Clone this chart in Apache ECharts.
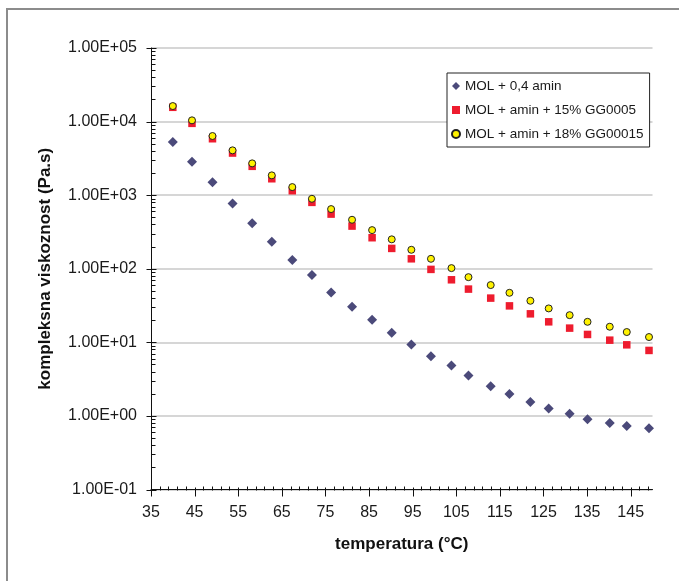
<!DOCTYPE html>
<html>
<head>
<meta charset="utf-8">
<script src="https://cdn.jsdelivr.net/npm/echarts@6/dist/echarts.min.js"></script>
<style>
  html, body { margin: 0; padding: 0; background: #ffffff; }
  #chart { width: 679px; height: 581px; }
</style>
</head>
<body>
<div id="chart"></div>
<script>
// Temperature sweep (°C) shared by all three samples
const temperatures = [40.0, 44.4, 49.1, 53.7, 58.2, 62.7, 67.4, 71.9, 76.3, 81.1, 85.7, 90.2, 94.7,
  99.2, 103.9, 107.8, 112.9, 117.2, 122.0, 126.2, 131.0, 135.1, 140.2, 144.1, 149.2];

// Complex viscosity (Pa.s)
const molAmin = [5270, 2845, 1493, 773, 414, 232, 132, 82, 47.7, 30.4, 20.2, 13.5, 9.36,
  6.49, 4.85, 3.55, 2.54, 1.98, 1.55, 1.26, 1.07, 0.90, 0.80, 0.73, 0.68];
const molGG0005 = [15630, 9460, 5845, 3735, 2465, 1671, 1148, 798, 553, 380, 264, 189, 136.5,
  98, 70.8, 52.9, 39.9, 31.3, 24.4, 19.0, 15.6, 12.8, 10.7, 9.25, 7.76];
const molGG00015 = [16260, 10400, 6365, 4065, 2705, 1858, 1288, 893, 647, 463, 335, 251, 181,
  136.5, 102, 76.9, 60, 47.1, 36.7, 28.9, 23.4, 19.0, 16.3, 13.8, 11.8];

const seriesNames = ['MOL + 0,4 amin', 'MOL + amin + 15% GG0005', 'MOL + amin + 18% GG00015'];

// Axis ticks and labels
const xTicks = [35, 45, 55, 65, 75, 85, 95, 105, 115, 125, 135, 145];
const xTickLabels = ['35', '45', '55', '65', '75', '85', '95', '105', '115', '125', '135', '145'];
const yTicks = [0.1, 1, 10, 100, 1000, 10000, 100000];
const yTickLabels = ['1.00E-01', '1.00E+00', '1.00E+01', '1.00E+02', '1.00E+03', '1.00E+04', '1.00E+05'];

const X_MIN = 35, X_MAX = 150, Y_MIN = 0.1, Y_MAX = 100000;
const FONT = "'Liberation Sans', Arial, Helvetica, sans-serif";

// Tick marks: kind 0 = x major, 1 = x minor, 2 = y major, 3 = y minor
const tickItems = [];
xTicks.forEach(function (t) {
  tickItems.push([t, Y_MIN, 0]);
  for (let s = 2; s < 10; s += 2) {
    if (t + s < X_MAX) tickItems.push([t + s, Y_MIN, 1]);
  }
});
yTicks.forEach(function (d, i) {
  tickItems.push([X_MIN, d, 2]);
  if (i < yTicks.length - 1) {
    for (let n = 2; n <= 9; n++) tickItems.push([X_MIN, n * d, 3]);
  }
});

function pair(xs, ys) { return xs.map(function (x, i) { return [x, ys[i]]; }); }

const chart = echarts.init(document.getElementById('chart'), null, { renderer: 'canvas' });

chart.setOption({
  backgroundColor: '#ffffff',
  animation: false,
  textStyle: { fontFamily: FONT },
  graphic: [{
    type: 'rect',
    silent: true,
    shape: { x: 7, y: 9, width: 720, height: 620 },
    style: { fill: 'none', stroke: '#8c8c8c', lineWidth: 2 }
  }],
  grid: { left: 151, right: 26.5, top: 48, bottom: 91.5, containLabel: false },
  legend: {
    data: seriesNames,
    orient: 'vertical',
    left: 447,
    top: 73,
    padding: [5, 6, 5, 4],
    itemGap: 8,
    itemWidth: 8,
    itemHeight: 8,
    borderColor: '#222222',
    borderWidth: 1,
    backgroundColor: '#ffffff',
    textStyle: { fontFamily: FONT, fontSize: 13.5, color: '#1a1a1a', lineHeight: 16 }
  },
  xAxis: {
    type: 'value',
    min: X_MIN,
    max: X_MAX,
    interval: 10,
    name: 'temperatura (°C)',
    nameLocation: 'middle',
    nameGap: 46,
    nameTextStyle: { fontFamily: FONT, fontSize: 17, fontWeight: 'bold', color: '#111111' },
    axisLine: { show: true, onZero: false, lineStyle: { color: '#111111', width: 1 } },
    axisTick: { show: false },
    minorTick: { show: false },
    splitLine: { show: false },
    axisLabel: {
      margin: 15,
      fontFamily: FONT,
      fontSize: 16,
      color: '#1a1a1a',
      showMaxLabel: false,
      formatter: function (v) {
        const i = xTicks.indexOf(Math.round(v));
        return i >= 0 ? xTickLabels[i] : '';
      }
    }
  },
  yAxis: {
    type: 'log',
    logBase: 10,
    min: Y_MIN,
    max: Y_MAX,
    interval: 1,
    name: 'kompleksna viskoznost (Pa.s)',
    nameLocation: 'middle',
    nameRotate: 90,
    nameGap: 97,
    nameTextStyle: { fontFamily: FONT, fontSize: 17, fontWeight: 'bold', color: '#111111' },
    axisLine: { show: true, onZero: false, lineStyle: { color: '#111111', width: 1 } },
    axisTick: { show: false },
    minorTick: { show: false },
    splitLine: { show: true, lineStyle: { color: '#c8c8c8', width: 1.5 } },
    axisLabel: {
      margin: 14,
      fontFamily: FONT,
      fontSize: 16,
      color: '#1a1a1a',
      formatter: function (v) {
        const i = Math.round(Math.log10(v)) + 1;
        return yTickLabels[i] || '';
      }
    }
  },
  series: [
    {
      name: 'axis ticks',
      type: 'custom',
      silent: true,
      clip: false,
      z: 3,
      data: tickItems,
      renderItem: function (params, api) {
        const kind = api.value(2);
        const p = api.coord([api.value(0), api.value(1)]);
        const x = Math.round(p[0]) + 0.5;
        const y = Math.round(p[1]) + 0.5;
        let shape;
        if (kind === 0) shape = { x1: x, y1: y - 3, x2: x, y2: y + 6 };
        else if (kind === 1) shape = { x1: x, y1: y - 4, x2: x, y2: y };
        else if (kind === 2) shape = { x1: x - 5, y1: y, x2: x + 5, y2: y };
        else shape = { x1: x, y1: y, x2: x + 4, y2: y };
        return { type: 'line', shape: shape, style: { stroke: '#111111', lineWidth: 1 } };
      }
    },
    {
      name: seriesNames[0],
      type: 'scatter',
      symbol: 'diamond',
      symbolSize: 10,
      itemStyle: { color: '#4b4a7a', opacity: 1 },
      data: pair(temperatures, molAmin),
      z: 4
    },
    {
      name: seriesNames[1],
      type: 'scatter',
      symbol: 'rect',
      symbolSize: 7.5,
      itemStyle: { color: '#ee1c2e', opacity: 1 },
      data: pair(temperatures, molGG0005),
      z: 5
    },
    {
      name: seriesNames[2],
      type: 'scatter',
      symbol: 'circle',
      symbolSize: 7,
      itemStyle: { color: '#fff200', borderColor: '#222222', borderWidth: 1, opacity: 1 },
      data: pair(temperatures, molGG00015),
      z: 6
    }
  ]
});
</script>
</body>
</html>
